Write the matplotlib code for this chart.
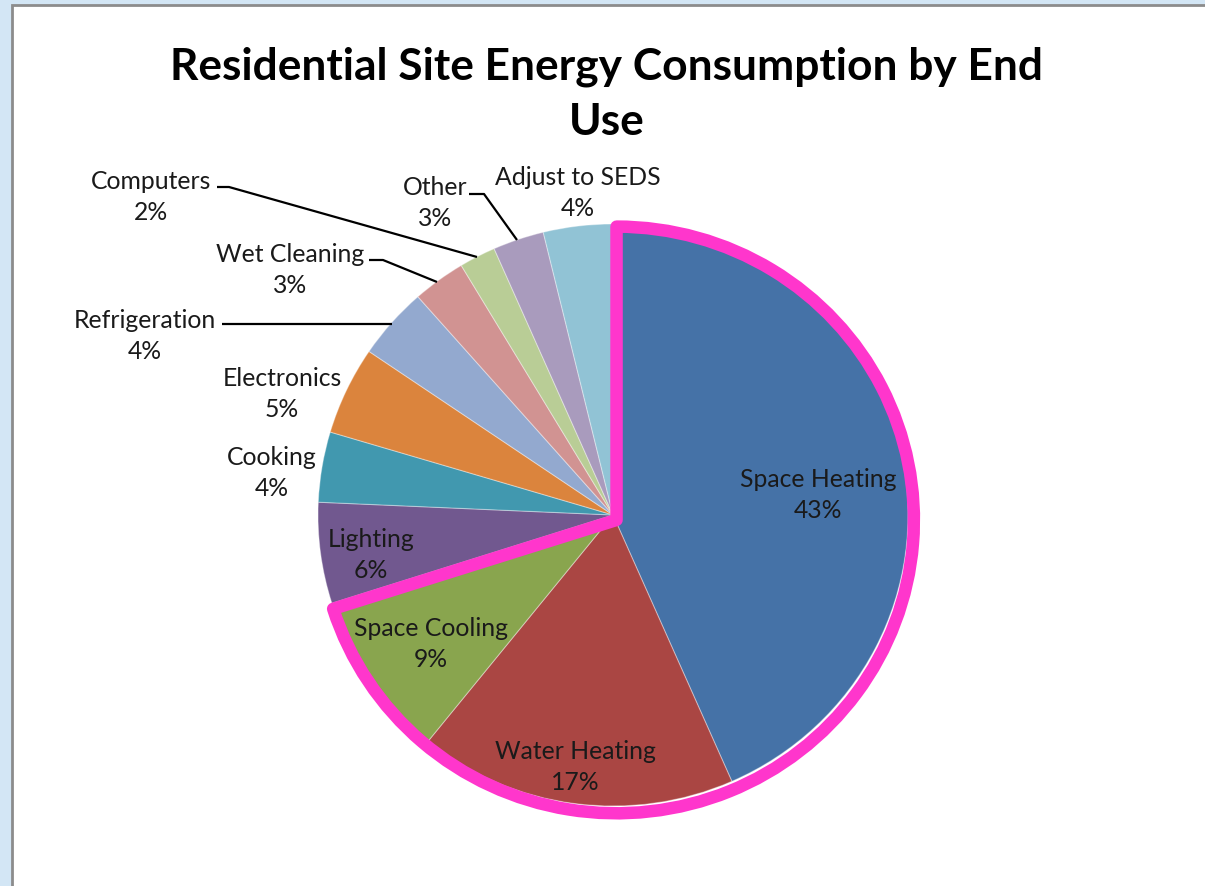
import numpy as np
import matplotlib
matplotlib.use("Agg")
import matplotlib.pyplot as plt
from matplotlib.patches import Wedge, Rectangle

# slice shares (percent), clockwise from 12 o'clock
end_uses = ['Space Heating', 'Water Heating', 'Space Cooling', 'Lighting', 'Cooking',
            'Electronics', 'Refrigeration', 'Wet Cleaning', 'Computers', 'Other',
            'Adjust to SEDS']
shares = [43.4, 17.4, 9.3, 5.6, 3.9, 4.9, 4.0, 2.9, 2.0, 2.8, 3.8]
colors = ['#4572A7', '#AA4643', '#89A54E', '#71588F', '#4198AF', '#DB843D',
          '#93A9CF', '#D19392', '#B9CD96', '#A99BBD', '#91C3D5']

# label centres in pixel coords of the picture
label_xy = [(818, 495), (575, 767), (431, 644), (371, 555), (272, 473), (282, 394),
            (145, 336), (290, 270), (151, 197), (435, 203), (578, 193)]
# leader lines (label side -> slice edge)
leaders = {
    'Refrigeration': [(222, 325), (392, 325)],
    'Wet Cleaning': [(369, 261), (383, 261), (437, 283)],
    'Computers': [(217, 188), (229, 188), (477, 258)],
    'Other': [(469, 195), (484, 195), (517, 241)],
}

W, H = 1205, 887
fig = plt.figure(figsize=(W / 100, H / 100), dpi=100)
fig.patch.set_facecolor('#d3e6f5')

bg = fig.add_axes([0, 0, 1, 1])
bg.set_xlim(0, W)
bg.set_ylim(H, 0)
bg.axis('off')
bg.add_patch(Rectangle((12, 6), W + 20, H + 20, facecolor='white',
                       edgecolor='#8c8c8c', lw=2))

# pie axes (slightly wider than tall, like the picture)
cx, cy, rx, ry = 613, 516, 295, 291
pax = fig.add_axes([(cx - rx) / W, 1 - (cy + ry) / H, 2 * rx / W, 2 * ry / H])

wedges, _ = pax.pie(shares, colors=colors, startangle=90, counterclock=False,
                    radius=1.0, wedgeprops=dict(edgecolor=(1, 1, 1, 0.35), lw=0.8))
pax.set_aspect('auto')
pax.set_xlim(-1, 1)
pax.set_ylim(-1, 1)
pax.axis('off')

# pink outline round the first three slices
t1 = wedges[2].theta1
t2 = wedges[0].theta2
pax.add_patch(Wedge((0.012, -0.017), 1.008, t1, t2, facecolor='none',
                    edgecolor='#FF36CC', lw=9, joinstyle='round', clip_on=False))

font = ['Lato', 'DejaVu Sans']
for name, val, (x, y) in zip(end_uses, shares, label_xy):
    pax.text(x, y, f'{name}\n{val:.0f}%', ha='center', va='center', fontsize=17.8,
             family=font, color='#1a1a1a', linespacing=1.45,
             transform=bg.transData, clip_on=False)

for name, pts in leaders.items():
    xs, ys = zip(*pts)
    pax.plot(xs, ys, color='black', lw=1.6, solid_capstyle='butt',
             transform=bg.transData, clip_on=False)

bg.text(607, 94, 'Residential Site Energy Consumption by End\nUse', ha='center',
        va='center', fontsize=31.9, fontweight='bold', family=font, color='black',
        linespacing=1.45)

fig.savefig('out.png', dpi=100, facecolor=fig.get_facecolor())
